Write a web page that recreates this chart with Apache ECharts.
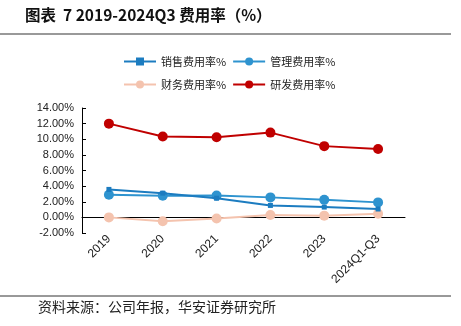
<!DOCTYPE html>
<html><head><meta charset="utf-8">
<script src="https://cdn.jsdelivr.net/npm/echarts@6/dist/echarts.min.js"></script>
<style>html,body{margin:0;padding:0;background:#fff}#c{width:461px;height:326px}</style>
</head><body><div id="c"></div>
<script>
const categories = ['2019','2020','2021','2022','2023','2024Q1-Q3'];
const salesRate = [3.58, 3.10, 2.45, 1.53, 1.32, 1.07];
const mgmtRate = [2.90, 2.78, 2.80, 2.56, 2.26, 1.92];
const finRate = [0.00, -0.50, -0.15, 0.30, 0.22, 0.47];
const rdRate = [12.00, 10.35, 10.25, 10.85, 9.12, 8.75];
const yTicks = {min: -2, max: 14, interval: 2};

const cjk = '"Noto Sans CJK SC", sans-serif';
const chart = echarts.init(document.getElementById('c'), null, {renderer: 'canvas'});
chart.setOption({
  animation: false,
  backgroundColor: '#fff',
  graphic: [
    {type: 'text', left: 25, top: 7, style: {text: '图表  7 2019-2024Q3 费用率（%）', font: 'bold 15.5px ' + cjk, fill: '#111'}},
    {type: 'line', shape: {x1: 0, y1: 34, x2: 451, y2: 34}, style: {stroke: '#777', lineWidth: 1.3}},
    {type: 'line', shape: {x1: 0, y1: 296, x2: 451, y2: 296}, style: {stroke: '#333', lineWidth: 1}},
    {type: 'text', left: 38, top: 300, style: {text: '资料来源：公司年报，华安证券研究所', font: '14px ' + cjk, fill: '#222'}}
  ],
  legend: [
    {left: 118, top: 51, itemWidth: 32, itemHeight: 10, itemGap: 6, textStyle: {fontFamily: cjk, fontSize: 11, color: '#222'}, data: ['销售费用率%', '管理费用率%']},
    {left: 118, top: 74, itemWidth: 32, itemHeight: 10, itemGap: 6, textStyle: {fontFamily: cjk, fontSize: 11, color: '#222'}, data: ['财务费用率%', '研发费用率%']}
  ],
  grid: {left: 82, right: 56, top: 108, bottom: 93},
  xAxis: {
    type: 'category', data: categories, boundaryGap: true,
    axisLine: {onZero: true, lineStyle: {color: '#000', width: 1}},
    axisTick: {inside: true, length: 3, lineStyle: {color: '#000'}},
    axisLabel: {rotate: 45, fontSize: 12, color: '#222', fontFamily: 'Liberation Sans, Arial, sans-serif', margin: 4}
  },
  yAxis: {
    type: 'value', min: yTicks.min, max: yTicks.max, interval: yTicks.interval,
    splitLine: {show: false},
    axisLine: {show: true, lineStyle: {color: '#000', width: 1}},
    axisTick: {show: true, inside: true, length: 4, lineStyle: {color: '#000'}},
    axisLabel: {formatter: v => v.toFixed(2) + '%', fontSize: 11, color: '#222', fontFamily: 'Liberation Sans, Arial, sans-serif', margin: 8}
  },
  series: [
    {name: '财务费用率%', type: 'line', data: finRate, symbol: 'circle', symbolSize: 10, itemStyle: {color: '#F4C3AE'}, lineStyle: {width: 2, color: '#F4C3AE'}, z: 2},
    {name: '管理费用率%', type: 'line', data: mgmtRate, symbol: 'circle', symbolSize: 10, itemStyle: {color: '#2E93CF'}, lineStyle: {width: 2, color: '#2E93CF'}, z: 3},
    {name: '销售费用率%', type: 'line', data: salesRate, symbol: 'rect', symbolSize: 5, itemStyle: {color: '#1C7CC0'}, lineStyle: {width: 2, color: '#1C7CC0'}, z: 4},
    {name: '研发费用率%', type: 'line', data: rdRate, symbol: 'circle', symbolSize: 10, itemStyle: {color: '#C00000'}, lineStyle: {width: 2, color: '#C00000'}, z: 5}
  ]
});
</script></body></html>
